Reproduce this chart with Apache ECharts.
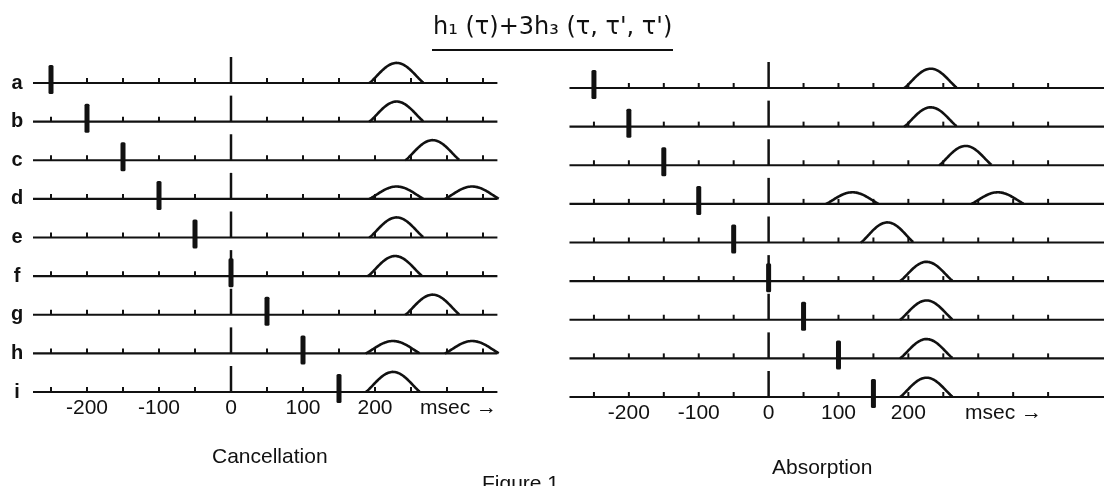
<!DOCTYPE html>
<html><head><meta charset="utf-8">
<script src="https://cdn.jsdelivr.net/npm/echarts/dist/echarts.min.js"></script>
<style>html,body{margin:0;padding:0;background:#fff}#c{width:1107px;height:486px}</style>
</head><body><div id="c"></div>
<script>
// ---- data ----
const rowLabels = ['a','b','c','d','e','f','g','h','i'];
const tickLabels = [-200, -100, 0, 100, 200];
// time (ms) of the h3 probe marker in each row
const cancelStim = [-250, -200, -150, -100, -50, 0, 50, 100, 150];
const absorbStim = [-250, -200, -150, -100, -50, 0, 50, 100, 150];
// response bumps: [centre ms, row index, amplitude (row units)]
const cancelBumps = [
  [230,0,0.52],[230,1,0.52],[280,2,0.52],[230,3,0.32],[335,3,0.32],
  [230,4,0.52],[228,5,0.52],[280,6,0.52],[225,7,0.32],[335,7,0.32],[225,8,0.52]
];
const absorbBumps = [
  [232,0,0.5],[232,1,0.5],[282,2,0.5],[120,3,0.3],[328,3,0.3],
  [170,4,0.52],[226,5,0.5],[226,6,0.5],[226,7,0.5],[226,8,0.5]
];
// time-scale tick marks (ms)
const cancelTicks = [-250,-200,-150,-100,-50,0,50,100,150,200,250,300,350];
const absorbTicks = [-250,-200,-150,-100,-50,0,50,100,150,200,250,300,350,400];
// extent of each time line (ms)
const cancelSpan = [-275, 370];
const absorbSpan = [-285, 480];

// ---- rendering ----
const INK = '#111';
const FONT = '"Liberation Sans","DejaVu Sans",sans-serif';
function baselineItem(ticks){
  return function(params, api){
    const row = api.value(1);
    const a = api.coord([api.value(0), row]);
    const b = api.coord([api.value(2), row]);
    const kids = [{type:'line', shape:{x1:a[0],y1:a[1],x2:b[0],y2:b[1]}, style:{stroke:INK,lineWidth:2.2}}];
    ticks.forEach(t => {
      const p = api.coord([t, row]);
      const h = t === 0 ? 26 : 5;
      kids.push({type:'line', shape:{x1:p[0],y1:p[1],x2:p[0],y2:p[1]-h}, style:{stroke:INK,lineWidth:t===0?2.5:2}});
    });
    return {type:'group', children:kids};
  };
}
function markerItem(params, api){
  const p = api.coord([api.value(0), api.value(1)]);
  return {type:'rect', shape:{x:p[0]-2.5, y:p[1]-18, width:5, height:29, r:1.5}, style:{fill:INK}};
}
function bumpItem(params, api){
  const c = api.value(0), row = api.value(1), amp = api.value(2);
  const half = 38, pts = [];
  for (let t = -half; t <= half; t += 1.5) {
    const s = Math.pow((1 + Math.cos(Math.PI * t / half)) / 2, 0.6);
    pts.push(api.coord([c + t, row - amp * s]));
  }
  return {type:'polyline', shape:{points:pts}, style:{stroke:INK, lineWidth:2.6, fill:null, lineJoin:'round'}};
}
const rowsData = span => rowLabels.map((_, i) => [span[0], i, span[1]]);
const xLabel = {
  fontFamily: FONT, fontSize: 21, color: INK, margin: 6,
  formatter: v => tickLabels.includes(v) ? String(v) : ''
};

const chart = echarts.init(document.getElementById('c'));
chart.setOption({
  animation: false,
  backgroundColor: '#fff',
  grid: [
    {left: 15, width: 504, top: 83, height: 309},
    {left: 559, width: 546, top: 88, height: 309}
  ],
  xAxis: [
    {gridIndex:0, type:'value', min:-300, max:400, interval:100,
     axisLine:{show:false}, axisTick:{show:false}, splitLine:{show:false}, axisLabel:xLabel},
    {gridIndex:1, type:'value', min:-300, max:480, interval:100,
     axisLine:{show:false}, axisTick:{show:false}, splitLine:{show:false}, axisLabel:xLabel}
  ],
  yAxis: [
    {gridIndex:0, type:'value', min:0, max:8, interval:1, inverse:true,
     axisLine:{show:false}, axisTick:{show:false}, splitLine:{show:false},
     axisLabel:{fontFamily:FONT, fontSize:20, fontWeight:'bold', color:INK, align:'center', margin:-2,
       formatter: v => rowLabels[v] || ''}},
    {gridIndex:1, type:'value', min:0, max:8, interval:1, inverse:true, show:false}
  ],
  series: [
    {type:'custom', xAxisIndex:0, yAxisIndex:0, encode:{x:[0,2], y:1}, renderItem: baselineItem(cancelTicks), data: rowsData(cancelSpan)},
    {type:'custom', xAxisIndex:0, yAxisIndex:0, encode:{x:0, y:1}, renderItem: markerItem, data: cancelStim.map((t,i)=>[t,i])},
    {type:'custom', xAxisIndex:0, yAxisIndex:0, encode:{x:0, y:1}, renderItem: bumpItem, data: cancelBumps},
    {type:'custom', xAxisIndex:1, yAxisIndex:1, encode:{x:[0,2], y:1}, renderItem: baselineItem(absorbTicks), data: rowsData(absorbSpan)},
    {type:'custom', xAxisIndex:1, yAxisIndex:1, encode:{x:0, y:1}, renderItem: markerItem, data: absorbStim.map((t,i)=>[t,i])},
    {type:'custom', xAxisIndex:1, yAxisIndex:1, encode:{x:0, y:1}, renderItem: bumpItem, data: absorbBumps}
  ],
  graphic: [
    {type:'text', left: 433, top: 16, style:{text:"h\u2081 (\u03C4)+3h\u2083 (\u03C4, \u03C4', \u03C4')", font:'24px "DejaVu Sans"', fill:INK}},
    {type:'line', shape:{x1:432, y1:50, x2:673, y2:50}, style:{stroke:INK, lineWidth:2}},
    {type:'text', left: 420, top: 398, style:{text:'msec \u2192', font:'21px ' + FONT, fill:INK}},
    {type:'text', left: 965, top: 403, style:{text:'msec \u2192', font:'21px ' + FONT, fill:INK}},
    {type:'text', left: 212, top: 447, style:{text:'Cancellation', font:'21px ' + FONT, fill:INK}},
    {type:'text', left: 772, top: 458, style:{text:'Absorption', font:'21px ' + FONT, fill:INK}},
    {type:'text', left: 482, top: 474, style:{text:'Figure 1', font:'21px ' + FONT, fill:INK}}
  ]
});
</script>
</body></html>
